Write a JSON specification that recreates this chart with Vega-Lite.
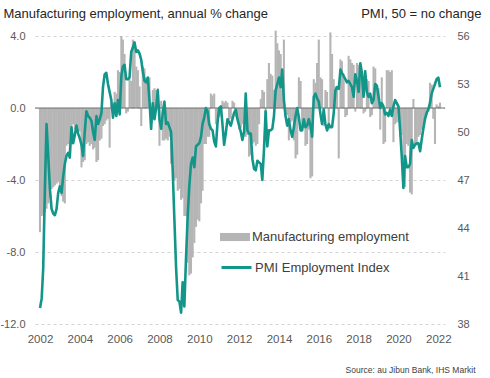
{
  "$schema": "https://vega.github.io/schema/vega-lite/v6.json",
  "width": 410,
  "height": 288,
  "autosize": {"type": "none"},
  "padding": {"left": 35, "top": 36, "right": 45, "bottom": 54},
  "background": "white",
  "config": {
    "view": {"stroke": null},
    "font": "Liberation Sans",
    "axis": {"domain": false, "ticks": false, "labelFont": "Liberation Sans", "labelColor": "#595959", "labelFontSize": 11, "titleFont": "Liberation Sans", "titleFontWeight": "normal", "labelFlush": false, "labelOverlap": false},
    "legend": {"labelFont": "Liberation Sans", "labelFontSize": 13, "labelColor": "#404040", "padding": 0, "title": null}
  },
  "datasets": {
    "main": [
      {"date":"2002-01","emp":-6.9,"pmi":39.0},{"date":"2002-02","emp":-6.0,"pmi":39.6},{"date":"2002-03","emp":-5.9,"pmi":41.5},{"date":"2002-04","emp":-5.8,"pmi":46.5},{"date":"2002-05","emp":-5.6,"pmi":50.5},{"date":"2002-06","emp":-5.3,"pmi":48.5},{"date":"2002-07","emp":-5.0,"pmi":46.5},{"date":"2002-08","emp":-4.5,"pmi":45.2},{"date":"2002-09","emp":-4.4,"pmi":44.9},{"date":"2002-10","emp":-4.3,"pmi":44.8},{"date":"2002-11","emp":-4.2,"pmi":45.2},{"date":"2002-12","emp":-4.1,"pmi":46.2},
      {"date":"2003-01","emp":-4.6,"pmi":46.6},{"date":"2003-02","emp":-4.9,"pmi":46.2},{"date":"2003-03","emp":-5.2,"pmi":47.2},{"date":"2003-04","emp":-5.3,"pmi":48.0},{"date":"2003-05","emp":-2.1,"pmi":48.5},{"date":"2003-06","emp":-2.0,"pmi":48.7},{"date":"2003-07","emp":-2.7,"pmi":48.4},{"date":"2003-08","emp":-1.1,"pmi":50.3},{"date":"2003-09","emp":-0.9,"pmi":49.3},{"date":"2003-10","emp":-1.2,"pmi":49.8},{"date":"2003-11","emp":-1.2,"pmi":50.4},{"date":"2003-12","emp":-1.4,"pmi":49.9},
      {"date":"2004-01","emp":-1.3,"pmi":49.6},{"date":"2004-02","emp":-3.3,"pmi":49.2},{"date":"2004-03","emp":-3.0,"pmi":48.5},{"date":"2004-04","emp":-2.9,"pmi":50.0},{"date":"2004-05","emp":-2.0,"pmi":51.3},{"date":"2004-06","emp":-1.9,"pmi":51.0},{"date":"2004-07","emp":-2.1,"pmi":50.9},{"date":"2004-08","emp":-2.0,"pmi":50.7},{"date":"2004-09","emp":-2.3,"pmi":50.0},{"date":"2004-10","emp":-2.2,"pmi":49.5},{"date":"2004-11","emp":-3.0,"pmi":51.0},{"date":"2004-12","emp":-2.9,"pmi":50.5},
      {"date":"2005-01","emp":-1.8,"pmi":50.8},{"date":"2005-02","emp":-1.7,"pmi":51.2},{"date":"2005-03","emp":-1.0,"pmi":52.8},{"date":"2005-04","emp":-0.9,"pmi":53.6},{"date":"2005-05","emp":-0.7,"pmi":53.7},{"date":"2005-06","emp":-0.6,"pmi":53.0},{"date":"2005-07","emp":-2.2,"pmi":52.5},{"date":"2005-08","emp":0.3,"pmi":52.0},{"date":"2005-09","emp":-0.1,"pmi":50.9},{"date":"2005-10","emp":0.9,"pmi":51.8},{"date":"2005-11","emp":0.8,"pmi":51.0},{"date":"2005-12","emp":2.1,"pmi":52.0},
      {"date":"2006-01","emp":2.0,"pmi":51.1},{"date":"2006-02","emp":4.0,"pmi":53.5},{"date":"2006-03","emp":3.8,"pmi":54.1},{"date":"2006-04","emp":3.0,"pmi":54.2},{"date":"2006-05","emp":-0.3,"pmi":53.3},{"date":"2006-06","emp":-0.2,"pmi":53.3},{"date":"2006-07","emp":1.6,"pmi":53.4},{"date":"2006-08","emp":1.5,"pmi":55.0},{"date":"2006-09","emp":3.8,"pmi":55.3},{"date":"2006-10","emp":3.6,"pmi":55.6},{"date":"2006-11","emp":2.3,"pmi":55.0},{"date":"2006-12","emp":2.1,"pmi":55.1},
      {"date":"2007-01","emp":1.2,"pmi":54.9},{"date":"2007-02","emp":-1.0,"pmi":54.5},{"date":"2007-03","emp":2.3,"pmi":53.8},{"date":"2007-04","emp":2.2,"pmi":53.2},{"date":"2007-05","emp":1.7,"pmi":53.1},{"date":"2007-06","emp":1.6,"pmi":53.4},{"date":"2007-07","emp":1.7,"pmi":52.0},{"date":"2007-08","emp":-0.5,"pmi":50.2},{"date":"2007-09","emp":1.0,"pmi":51.8},{"date":"2007-10","emp":1.1,"pmi":50.8},{"date":"2007-11","emp":1.0,"pmi":51.5},{"date":"2007-12","emp":1.1,"pmi":52.6},
      {"date":"2008-01","emp":-2.1,"pmi":50.8},{"date":"2008-02","emp":0.4,"pmi":50.2},{"date":"2008-03","emp":-1.8,"pmi":51.2},{"date":"2008-04","emp":-1.8,"pmi":51.9},{"date":"2008-05","emp":-1.7,"pmi":50.5},{"date":"2008-06","emp":-1.8,"pmi":50.6},{"date":"2008-07","emp":-1.6,"pmi":50.3},{"date":"2008-08","emp":-3.1,"pmi":50.0},{"date":"2008-09","emp":-3.0,"pmi":47.5},{"date":"2008-10","emp":-4.0,"pmi":44.5},{"date":"2008-11","emp":-3.9,"pmi":41.5},{"date":"2008-12","emp":-4.6,"pmi":39.5},
      {"date":"2009-01","emp":-4.5,"pmi":39.4},{"date":"2009-02","emp":-5.1,"pmi":38.7},{"date":"2009-03","emp":-5.0,"pmi":40.6},{"date":"2009-04","emp":-6.0,"pmi":39.1},{"date":"2009-05","emp":-6.0,"pmi":42.0},{"date":"2009-06","emp":-8.6,"pmi":44.7},{"date":"2009-07","emp":-9.3,"pmi":46.6},{"date":"2009-08","emp":-9.2,"pmi":48.0},{"date":"2009-09","emp":-8.3,"pmi":48.4},{"date":"2009-10","emp":-7.5,"pmi":47.8},{"date":"2009-11","emp":-6.6,"pmi":49.1},{"date":"2009-12","emp":-6.2,"pmi":49.2},
      {"date":"2010-01","emp":-6.3,"pmi":49.3},{"date":"2010-02","emp":-5.3,"pmi":49.7},{"date":"2010-03","emp":-4.6,"pmi":50.5},{"date":"2010-04","emp":-2.0,"pmi":50.9},{"date":"2010-05","emp":-2.0,"pmi":51.5},{"date":"2010-06","emp":-1.6,"pmi":51.3},{"date":"2010-07","emp":-1.6,"pmi":50.5},{"date":"2010-08","emp":0.8,"pmi":50.2},{"date":"2010-09","emp":0.7,"pmi":50.1},{"date":"2010-10","emp":0.8,"pmi":49.4},{"date":"2010-11","emp":-0.9,"pmi":49.1},{"date":"2010-12","emp":-0.8,"pmi":50.6},
      {"date":"2011-01","emp":-0.5,"pmi":51.5},{"date":"2011-02","emp":-0.4,"pmi":51.6},{"date":"2011-03","emp":0.4,"pmi":50.5},{"date":"2011-04","emp":0.3,"pmi":49.2},{"date":"2011-05","emp":0.4,"pmi":49.9},{"date":"2011-06","emp":0.3,"pmi":50.8},{"date":"2011-07","emp":-0.7,"pmi":50.6},{"date":"2011-08","emp":-0.6,"pmi":50.4},{"date":"2011-09","emp":0.4,"pmi":50.8},{"date":"2011-10","emp":0.3,"pmi":51.2},{"date":"2011-11","emp":-0.5,"pmi":51.4},{"date":"2011-12","emp":-0.4,"pmi":50.8},
      {"date":"2012-01","emp":-1.2,"pmi":50.4},{"date":"2012-02","emp":-1.1,"pmi":50.0},{"date":"2012-03","emp":-0.9,"pmi":49.5},{"date":"2012-04","emp":-0.8,"pmi":50.0},{"date":"2012-05","emp":-1.6,"pmi":52.4},{"date":"2012-06","emp":-1.5,"pmi":50.1},{"date":"2012-07","emp":-2.7,"pmi":49.9},{"date":"2012-08","emp":-2.6,"pmi":49.9},{"date":"2012-09","emp":-2.0,"pmi":48.3},{"date":"2012-10","emp":-1.9,"pmi":47.7},{"date":"2012-11","emp":-2.1,"pmi":47.6},{"date":"2012-12","emp":-2.0,"pmi":48.2},
      {"date":"2013-01","emp":-0.9,"pmi":48.1},{"date":"2013-02","emp":0.5,"pmi":48.0},{"date":"2013-03","emp":1.0,"pmi":47.0},{"date":"2013-04","emp":0.9,"pmi":48.9},{"date":"2013-05","emp":-0.5,"pmi":51.3},{"date":"2013-06","emp":1.6,"pmi":49.1},{"date":"2013-07","emp":2.5,"pmi":50.1},{"date":"2013-08","emp":1.9,"pmi":50.1},{"date":"2013-09","emp":1.8,"pmi":50.2},{"date":"2013-10","emp":1.0,"pmi":51.0},{"date":"2013-11","emp":4.3,"pmi":52.6},{"date":"2013-12","emp":3.6,"pmi":53.0},
      {"date":"2014-01","emp":3.2,"pmi":53.4},{"date":"2014-02","emp":3.0,"pmi":52.8},{"date":"2014-03","emp":1.0,"pmi":53.9},{"date":"2014-04","emp":3.8,"pmi":52.0},{"date":"2014-05","emp":-0.5,"pmi":51.0},{"date":"2014-06","emp":-0.4,"pmi":50.4},{"date":"2014-07","emp":-1.8,"pmi":50.8},{"date":"2014-08","emp":-0.8,"pmi":50.1},{"date":"2014-09","emp":-0.7,"pmi":49.7},{"date":"2014-10","emp":-1.8,"pmi":50.3},{"date":"2014-11","emp":-2.8,"pmi":51.0},{"date":"2014-12","emp":-2.6,"pmi":51.5},
      {"date":"2015-01","emp":1.7,"pmi":50.9},{"date":"2015-02","emp":1.5,"pmi":50.1},{"date":"2015-03","emp":-1.2,"pmi":50.1},{"date":"2015-04","emp":-1.1,"pmi":50.8},{"date":"2015-05","emp":-2.1,"pmi":50.3},{"date":"2015-06","emp":-2.0,"pmi":50.4},{"date":"2015-07","emp":-1.2,"pmi":50.8},{"date":"2015-08","emp":-3.9,"pmi":50.4},{"date":"2015-09","emp":-3.8,"pmi":49.7},{"date":"2015-10","emp":1.6,"pmi":52.2},{"date":"2015-11","emp":1.4,"pmi":52.4},{"date":"2015-12","emp":2.5,"pmi":52.1},
      {"date":"2016-01","emp":3.8,"pmi":51.9},{"date":"2016-02","emp":1.7,"pmi":51.1},{"date":"2016-03","emp":1.6,"pmi":50.5},{"date":"2016-04","emp":-1.0,"pmi":51.4},{"date":"2016-05","emp":1.0,"pmi":50.5},{"date":"2016-06","emp":0.9,"pmi":50.1},{"date":"2016-07","emp":-1.2,"pmi":50.5},{"date":"2016-08","emp":4.2,"pmi":50.3},{"date":"2016-09","emp":3.0,"pmi":50.3},{"date":"2016-10","emp":1.6,"pmi":51.2},{"date":"2016-11","emp":1.2,"pmi":52.6},{"date":"2016-12","emp":1.1,"pmi":52.8},
      {"date":"2017-01","emp":-2.8,"pmi":52.7},{"date":"2017-02","emp":2.7,"pmi":53.9},{"date":"2017-03","emp":2.6,"pmi":53.7},{"date":"2017-04","emp":1.9,"pmi":53.5},{"date":"2017-05","emp":-0.5,"pmi":53.3},{"date":"2017-06","emp":-0.4,"pmi":53.1},{"date":"2017-07","emp":2.9,"pmi":53.2},{"date":"2017-08","emp":2.7,"pmi":53.0},{"date":"2017-09","emp":2.5,"pmi":52.8},{"date":"2017-10","emp":2.4,"pmi":52.2},{"date":"2017-11","emp":-0.2,"pmi":53.6},{"date":"2017-12","emp":2.5,"pmi":53.2},
      {"date":"2018-01","emp":2.4,"pmi":52.5},{"date":"2018-02","emp":1.9,"pmi":54.3},{"date":"2018-03","emp":1.8,"pmi":53.7},{"date":"2018-04","emp":-0.3,"pmi":52.2},{"date":"2018-05","emp":-0.2,"pmi":53.8},{"date":"2018-06","emp":1.6,"pmi":52.5},{"date":"2018-07","emp":1.5,"pmi":52.2},{"date":"2018-08","emp":-0.5,"pmi":52.4},{"date":"2018-09","emp":-0.4,"pmi":51.8},{"date":"2018-10","emp":2.3,"pmi":52.0},{"date":"2018-11","emp":2.2,"pmi":53.0},{"date":"2018-12","emp":1.2,"pmi":52.9},
      {"date":"2019-01","emp":1.1,"pmi":52.2},{"date":"2019-02","emp":-1.2,"pmi":51.5},{"date":"2019-03","emp":1.7,"pmi":51.8},{"date":"2019-04","emp":-2.0,"pmi":51.6},{"date":"2019-05","emp":-1.9,"pmi":51.1},{"date":"2019-06","emp":2.1,"pmi":51.2},{"date":"2019-07","emp":2.1,"pmi":51.0},{"date":"2019-08","emp":2.0,"pmi":51.4},{"date":"2019-09","emp":2.1,"pmi":51.0},{"date":"2019-10","emp":-1.9,"pmi":51.6},{"date":"2019-11","emp":-0.9,"pmi":52.0},{"date":"2019-12","emp":-0.8,"pmi":51.8},
      {"date":"2020-01","emp":-0.3,"pmi":51.6},{"date":"2020-02","emp":-1.6,"pmi":50.1},{"date":"2020-03","emp":-1.5,"pmi":48.5},{"date":"2020-04","emp":-3.4,"pmi":46.5},{"date":"2020-05","emp":-4.4,"pmi":48.5},{"date":"2020-06","emp":-2.0,"pmi":47.8},{"date":"2020-07","emp":-2.1,"pmi":47.8},{"date":"2020-08","emp":-4.7,"pmi":48.0},{"date":"2020-09","emp":-4.8,"pmi":49.5},{"date":"2020-10","emp":0.5,"pmi":49.0},{"date":"2020-11","emp":-2.0,"pmi":49.2},{"date":"2020-12","emp":-1.9,"pmi":49.3},
      {"date":"2021-01","emp":-1.6,"pmi":49.3},{"date":"2021-02","emp":-1.5,"pmi":48.8},{"date":"2021-03","emp":-1.2,"pmi":49.5},{"date":"2021-04","emp":-1.1,"pmi":50.2},{"date":"2021-05","emp":-0.5,"pmi":50.8},{"date":"2021-06","emp":-0.4,"pmi":51.2},{"date":"2021-07","emp":-0.2,"pmi":51.4},{"date":"2021-08","emp":1.4,"pmi":51.8},{"date":"2021-09","emp":1.3,"pmi":52.4},{"date":"2021-10","emp":-0.6,"pmi":52.7},{"date":"2021-11","emp":-2.0,"pmi":53.0},{"date":"2021-12","emp":0.2,"pmi":53.3},
      {"date":"2022-01","emp":0.1,"pmi":53.4},{"date":"2022-02","emp":0.3,"pmi":52.8}
    ]
  },
  "layer": [
    {
      "data": {"name": "main"},
      "layer": [
        {
          "mark": {"type": "bar", "size": 2.1},
          "encoding": {
            "x": {"field": "date", "type": "temporal",
              "scale": {"type": "utc", "domain": [{"year": 2002, "month": 1, "date": 1, "utc": true}, {"year": 2022, "month": 2, "date": 1, "utc": true}]},
              "axis": {"format": "%Y", "tickCount": {"interval": "year", "step": 2}, "grid": false, "labelPadding": 9, "labelFontSize": 11.5,
                "title": "Source: au Jibun Bank, IHS Markit", "titleAlign": "right", "titleAnchor": null, "titleX": 440, "titleY": 45, "titleBaseline": "middle", "titleFontSize": 8.5, "titleColor": "#404040"}},
            "y": {"field": "emp", "type": "quantitative", "scale": {"domain": [-12, 4], "nice": false, "zero": false},
              "axis": {"values": [-12, -8, -4, 0, 4], "labelExpr": "(datum.value < 0 ? '-' : '') + format(abs(datum.value), '.1f')",
                "grid": true, "gridDash": [3, 3], "gridColor": "#d4d4d4", "labelPadding": 10,
                "title": "Manufacturing employment, annual % change", "titleAngle": 0, "titleAlign": "left", "titleBaseline": "middle", "titleX": -32, "titleY": -23, "titleFontSize": 13, "titleColor": "#262626"}},
            "fill": {"datum": "Manufacturing employment", "scale": {"range": ["#b5b5b5"]},
              "legend": {"orient": "none", "legendX": 185, "legendY": 186, "symbolType": "M-1,-0.27H1V0.27H-1Z", "symbolSize": 900, "symbolStrokeWidth": 0, "labelOffset": 2}}
          }
        },
        {
          "data": {"values": [{}]},
          "mark": {"type": "rule", "color": "#6e6e6e", "strokeWidth": 1},
          "encoding": {"y": {"datum": 0}}
        }
      ]
    },
    {
      "data": {"name": "main"},
      "mark": {"type": "line", "strokeWidth": 2.6, "strokeJoin": "round"},
      "encoding": {
        "x": {"field": "date", "type": "temporal"},
        "y": {"field": "pmi", "type": "quantitative", "scale": {"domain": [38, 56], "nice": false, "zero": false},
          "axis": {"orient": "right", "values": [38, 41, 44, 47, 50, 53, 56], "grid": false, "labelPadding": 12,
            "title": "PMI, 50 = no change", "titleAngle": 0, "titleAlign": "right", "titleBaseline": "middle", "titleX": 36, "titleY": -23, "titleFontSize": 13, "titleColor": "#262626"}},
        "stroke": {"datum": "PMI Employment Index", "scale": {"range": ["#13968a"]},
          "legend": {"orient": "none", "legendX": 185, "legendY": 215, "symbolType": "stroke", "symbolSize": 900, "symbolStrokeWidth": 3, "labelOffset": 2}}
      }
    }
  ],
  "resolve": {"scale": {"y": "independent"}}
}
